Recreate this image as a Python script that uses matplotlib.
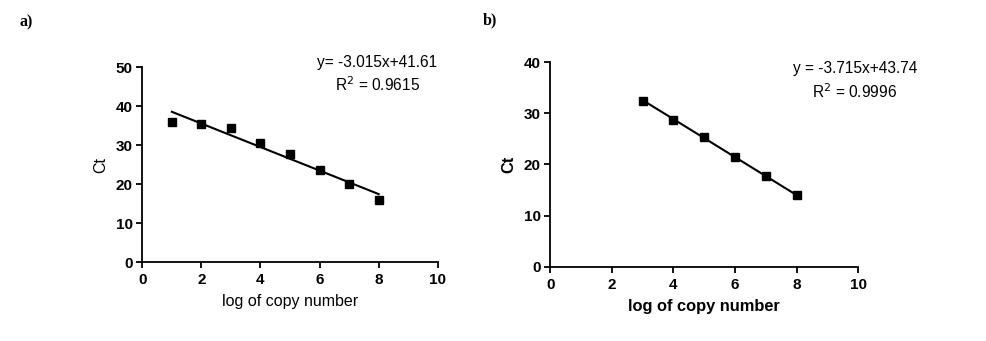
import numpy as np
import matplotlib.pyplot as plt

plt.rcParams['font.family'] = ['Liberation Sans', 'DejaVu Sans']

# Standard curve a)
log_copy_a = [1, 2, 3, 4, 5, 6, 7, 8]
ct_a = [36.0, 35.5, 34.5, 30.5, 27.7, 23.7, 20.0, 16.0]
slope_a, icpt_a, r2_a = -3.015, 41.61, 0.9615

# Standard curve b)
log_copy_b = [3, 4, 5, 6, 7, 8]
ct_b = [32.5, 28.8, 25.3, 21.4, 17.7, 14.0]
slope_b, icpt_b, r2_b = -3.715, 43.74, 0.9996

fig = plt.figure(figsize=(9.87, 3.41), dpi=100)
ax1 = fig.add_axes([0.1442, 0.2308, 0.2993, 0.5718])
ax2 = fig.add_axes([0.5576, 0.2179, 0.3118, 0.5994])


def style(ax, ymax, bold_labels):
    ax.set_xlim(0, 10)
    ax.set_ylim(0, ymax)
    ax.set_xticks(np.arange(0, 11, 2))
    ax.set_yticks(np.arange(0, ymax + 1, 10))
    for s in ['top', 'right']:
        ax.spines[s].set_visible(False)
    for s in ['left', 'bottom']:
        ax.spines[s].set_linewidth(1.3)
    ax.tick_params(direction='out', length=4, width=1.3, labelsize=11, pad=3)
    ax.tick_params(axis='x', pad=4)
    for lbl in ax.get_xticklabels() + ax.get_yticklabels():
        lbl.set_fontweight('bold')
    w = 'bold' if bold_labels else 'normal'
    size = 11.8 if bold_labels else 11.5
    ax.set_xlabel('log of copy number', fontsize=size, fontweight=w, labelpad=5)
    ax.set_ylabel('Ct', fontsize=size, fontweight=w, labelpad=5)


def draw(ax, x, y, m, b):
    x = np.array(x)
    ax.plot(x, y, 's', color='black', markersize=6.2, clip_on=False, zorder=3)
    xf = np.array([x.min(), x.max()])
    ax.plot(xf, m * xf + b, color='black', linewidth=1.5)


draw(ax1, log_copy_a, ct_a, slope_a, icpt_a)
style(ax1, 50, False)
ax1.text(0.795, 1.027, f'y= {slope_a}x+{icpt_a}', transform=ax1.transAxes,
         ha='center', va='center', fontsize=11.2)
ax1.text(0.795, 0.909, f'R$^2$ = {r2_a}', transform=ax1.transAxes,
         ha='center', va='center', fontsize=11.2)

draw(ax2, log_copy_b, ct_b, slope_b, icpt_b)
style(ax2, 40, True)
ax2.text(0.99, 0.972, f'y = {slope_b}x+{icpt_b}', transform=ax2.transAxes,
         ha='center', va='center', fontsize=11.2)
ax2.text(0.99, 0.855, f'R$^2$ = {r2_b}', transform=ax2.transAxes,
         ha='center', va='center', fontsize=11.2)

fig.text(0.020, 0.935, 'a)', family='Liberation Serif', fontweight='bold',
         fontsize=11.5, va='center')
fig.text(0.489, 0.941, 'b)', family='Liberation Serif', fontweight='bold',
         fontsize=11.5, va='center')

fig.savefig('out.png', dpi=100)
